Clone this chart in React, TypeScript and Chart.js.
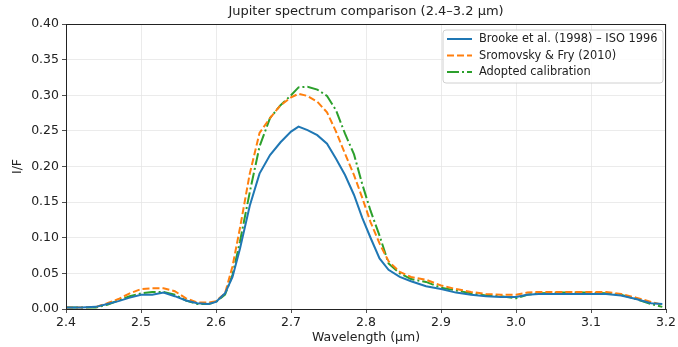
import React, { useEffect, useRef } from "react";
import { Chart, registerables } from "chart.js";

Chart.register(...registerables);

const wavelengths = [
  2.400, 2.420, 2.440, 2.455, 2.470, 2.485, 2.500, 2.515, 2.530, 2.545, 2.560, 2.575, 2.590, 2.600,
  2.612, 2.622, 2.632, 2.645, 2.658, 2.672, 2.686, 2.700, 2.710, 2.722, 2.735, 2.748, 2.760, 2.772,
  2.784, 2.795, 2.806, 2.818, 2.830, 2.845, 2.860, 2.880, 2.900, 2.920, 2.940, 2.960, 2.980, 3.000,
  3.015, 3.030, 3.060, 3.090, 3.120, 3.140, 3.160, 3.180, 3.195,
];

const brooke = [
  0.002, 0.002, 0.003, 0.007, 0.011, 0.016, 0.020, 0.020, 0.023, 0.018, 0.012, 0.008, 0.007, 0.010,
  0.022, 0.045, 0.085, 0.145, 0.190, 0.216, 0.234, 0.249, 0.256, 0.251, 0.244, 0.232, 0.211, 0.188,
  0.160, 0.128, 0.100, 0.071, 0.055, 0.045, 0.039, 0.032, 0.028, 0.023, 0.020, 0.018, 0.017, 0.017,
  0.020, 0.021, 0.021, 0.021, 0.021, 0.019, 0.014, 0.008, 0.007,
];

const sromovsky = [
  0.002, 0.002, 0.003, 0.008, 0.014, 0.022, 0.028, 0.029, 0.029, 0.025, 0.015, 0.009, 0.009, 0.011,
  0.022, 0.060, 0.114, 0.190, 0.247, 0.268, 0.286, 0.297, 0.302, 0.299, 0.291, 0.276, 0.249, 0.218,
  0.188, 0.156, 0.122, 0.092, 0.067, 0.052, 0.045, 0.041, 0.033, 0.028, 0.024, 0.021, 0.020, 0.020,
  0.023, 0.024, 0.024, 0.024, 0.024, 0.021, 0.016, 0.010, 0.006,
];

const adopted = [
  0.002, 0.002, 0.002, 0.006, 0.012, 0.018, 0.022, 0.024, 0.024, 0.020, 0.012, 0.007, 0.007, 0.010,
  0.020, 0.048, 0.095, 0.164, 0.228, 0.268, 0.286, 0.300, 0.311, 0.312, 0.308, 0.299, 0.279, 0.246,
  0.217, 0.175, 0.138, 0.103, 0.064, 0.050, 0.042, 0.038, 0.030, 0.026, 0.022, 0.019, 0.018, 0.015,
  0.020, 0.022, 0.023, 0.023, 0.022, 0.020, 0.014, 0.007, 0.003,
];

const seriesLabels = ["Brooke et al. (1998) \u2013 ISO 1996", "Sromovsky & Fry (2010)", "Adopted calibration"];
const seriesColors = ["#1f77b4", "#ff7f0e", "#2ca02c"];
const seriesDashes: number[][] = [[], [7, 3], [12, 3, 2, 3]];
const titleText = "Jupiter spectrum comparison (2.4\u20133.2 \u00b5m)";
const xTitle = "Wavelength (\u00b5m)";
const yTitle = "I/F";

const FONT = "'DejaVu Sans', sans-serif";

const decorPlugin = {
  id: "decor",
  afterDraw(chart: any) {
    const { ctx, chartArea } = chart;
    const { left, right, top, bottom } = chartArea;
    ctx.save();
    ctx.strokeStyle = "#222";
    ctx.lineWidth = 1;
    ctx.setLineDash([]);
    ctx.strokeRect(Math.round(left) + 0.5, Math.round(top) + 0.5, Math.round(right - left) - 1, Math.round(bottom - top));
    ctx.fillStyle = "#222";
    ctx.font = `13px ${FONT}`;
    ctx.textAlign = "center";
    ctx.textBaseline = "middle";
    ctx.fillText(titleText, (left + right) / 2, 12);
    ctx.font = `12.5px ${FONT}`;
    ctx.fillText(xTitle, (left + right) / 2, 338);
    ctx.save();
    ctx.translate(18, (top + bottom) / 2);
    ctx.rotate(-Math.PI / 2);
    ctx.fillText(yTitle, 0, 0);
    ctx.restore();
    const lx = 443, ly = 30, lw = 220, lh = 53;
    ctx.beginPath();
    const r = 3;
    ctx.moveTo(lx + r, ly);
    ctx.lineTo(lx + lw - r, ly);
    ctx.quadraticCurveTo(lx + lw, ly, lx + lw, ly + r);
    ctx.lineTo(lx + lw, ly + lh - r);
    ctx.quadraticCurveTo(lx + lw, ly + lh, lx + lw - r, ly + lh);
    ctx.lineTo(lx + r, ly + lh);
    ctx.quadraticCurveTo(lx, ly + lh, lx, ly + lh - r);
    ctx.lineTo(lx, ly + r);
    ctx.quadraticCurveTo(lx, ly, lx + r, ly);
    ctx.closePath();
    ctx.fillStyle = "rgba(255,255,255,0.85)";
    ctx.fill();
    ctx.strokeStyle = "#d0d0d0";
    ctx.lineWidth = 1;
    ctx.stroke();
    ctx.font = `11.4px ${FONT}`;
    ctx.textAlign = "left";
    ctx.textBaseline = "middle";
    const rows = [39, 55.5, 72];
    seriesLabels.forEach((lab, i) => {
      const y = rows[i];
      ctx.beginPath();
      ctx.strokeStyle = seriesColors[i];
      ctx.lineWidth = 2;
      ctx.setLineDash(seriesDashes[i]);
      ctx.moveTo(447, y);
      ctx.lineTo(472, y);
      ctx.stroke();
      ctx.setLineDash([]);
      ctx.fillStyle = "#222";
      ctx.fillText(lab, 479, y + 0.5);
    });
    ctx.restore();
  },
};

export default function App() {
  const ref = useRef<HTMLCanvasElement | null>(null);
  useEffect(() => {
    if (!ref.current) return;
    const mk = (vals: number[]) => wavelengths.map((x, i) => ({ x, y: vals[i] }));
    const all = [brooke, sromovsky, adopted];
    const chart = new Chart(ref.current, {
      type: "line",
      data: {
        datasets: all.map((vals, i) => ({
          label: seriesLabels[i],
          data: mk(vals),
          borderColor: seriesColors[i],
          backgroundColor: seriesColors[i],
          borderWidth: 2,
          borderDash: seriesDashes[i],
          pointRadius: 0,
          tension: 0,
          fill: false,
        })),
      },
      options: {
        animation: false,
        responsive: false,
        maintainAspectRatio: false,
        layout: { padding: { top: 24, right: 10, left: 0, bottom: 0 } },
        plugins: { legend: { display: false }, title: { display: false }, tooltip: { enabled: false } },
        scales: {
          x: {
            type: "linear",
            min: 2.4,
            max: 3.2,
            afterFit: (s: any) => { s.height = 38; },
            ticks: {
              stepSize: 0.1,
              color: "#222",
              font: { family: FONT, size: 12.5 },
              padding: 2,
              maxRotation: 0,
              callback: (v: any) => Number(v).toFixed(1),
            },
            grid: { color: "#e6e6e6", lineWidth: 0.8, tickColor: "#222", tickLength: 4, drawTicks: true },
            border: { display: true, color: "#222", width: 1 },
          },
          y: {
            min: 0,
            max: 0.4,
            afterFit: (s: any) => { s.width = 66; },
            ticks: {
              stepSize: 0.05,
              color: "#222",
              font: { family: FONT, size: 12.5 },
              padding: 3,
              callback: (v: any) => Number(v).toFixed(2),
            },
            grid: { color: "#e6e6e6", lineWidth: 0.8, tickColor: "#222", tickLength: 4, drawTicks: true },
            border: { display: true, color: "#222", width: 1 },
          },
        },
      },
      plugins: [decorPlugin],
    } as any);
    return () => chart.destroy();
  }, []);
  return (
    <div style={{ position: "fixed", left: 0, top: 0, width: 678, height: 347, background: "#fff" }}>
      <canvas ref={ref} width={678} height={347} style={{ width: 678, height: 347, display: "block" }} />
    </div>
  );
}
